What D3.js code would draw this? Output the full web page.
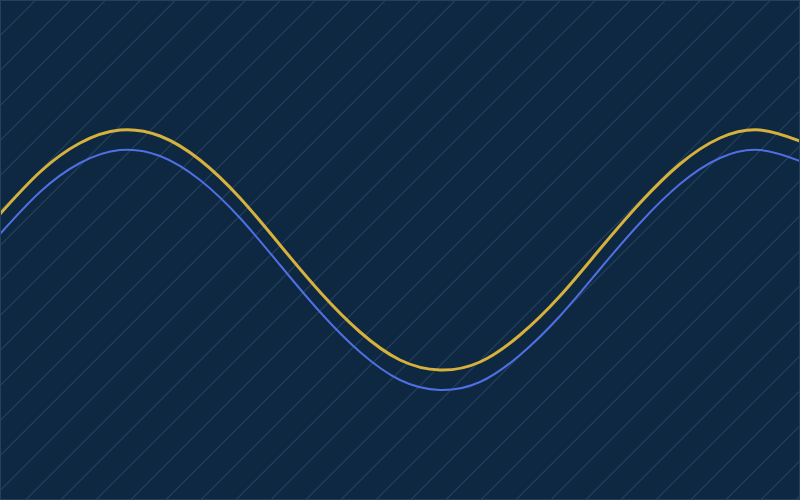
<!DOCTYPE html>
<html>
<head>
<meta charset="utf-8">
<script src="https://cdn.jsdelivr.net/npm/d3@7"></script>
<style>
  html, body { margin: 0; padding: 0; background: #0e2842; }
  svg { display: block; }
</style>
</head>
<body>
<div id="chart"></div>
<script>
// Sample positions along the x axis
const xs = [0, 1, 2, 3, 4, 5, 6, 7, 8, 9, 10, 11, 12, 13, 14, 15, 16, 17, 18, 19, 20];

// Gold (upper) wave
const goldValues = [0.36, 0.78, 1.07, 1.20, 1.14, 0.90, 0.52, 0.05, -0.42, -0.82, -1.10,
                    -1.20, -1.12, -0.85, -0.46, 0.01, 0.47, 0.86, 1.12, 1.20, 1.09];

// Blue (lower) wave
const blueValues = [0.16, 0.58, 0.87, 1.00, 0.94, 0.70, 0.32, -0.15, -0.62, -1.02, -1.30,
                    -1.40, -1.32, -1.05, -0.66, -0.19, 0.27, 0.66, 0.92, 1.00, 0.89];

const width = 800, height = 500;

const svg = d3.select("#chart")
  .append("svg")
  .attr("width", width)
  .attr("height", height);

// Diagonal hatch background
const defs = svg.append("defs");
const pat = defs.append("pattern")
  .attr("id", "hatch")
  .attr("patternUnits", "userSpaceOnUse")
  .attr("width", 35 / Math.SQRT2)
  .attr("height", 35 / Math.SQRT2)
  .attr("patternTransform", "rotate(45)");
pat.append("line")
  .attr("x1", 0).attr("y1", 0)
  .attr("x2", 0).attr("y2", 35 / Math.SQRT2)
  .attr("stroke", "#6384ab")
  .attr("stroke-opacity", 0.6)
  .attr("stroke-width", 1);

svg.append("rect")
  .attr("width", width)
  .attr("height", height)
  .attr("fill", "#0e2842");
svg.append("rect")
  .attr("width", width)
  .attr("height", height)
  .attr("fill", "url(#hatch)");

// Scales
const x = d3.scaleLinear().domain([0, 20]).range([0, width]);
const y = d3.scaleLinear().domain([-2.5, 2.5]).range([height, 0]);

const line = vals => d3.line()
  .x((d, i) => x(xs[i]))
  .y(d => y(d))
  .curve(d3.curveNatural)(vals);

// Blue line
svg.append("path")
  .attr("d", line(blueValues))
  .attr("fill", "none")
  .attr("stroke", "#4f6fe3")
  .attr("stroke-width", 2);

// Gold line
svg.append("path")
  .attr("d", line(goldValues))
  .attr("fill", "none")
  .attr("stroke", "#d6b13c")
  .attr("stroke-width", 3);

// Thin frame
svg.append("rect")
  .attr("x", 0.5).attr("y", 0.5)
  .attr("width", width - 1)
  .attr("height", height - 1)
  .attr("fill", "none")
  .attr("stroke", "#24405f")
  .attr("stroke-width", 1);
</script>
</body>
</html>
